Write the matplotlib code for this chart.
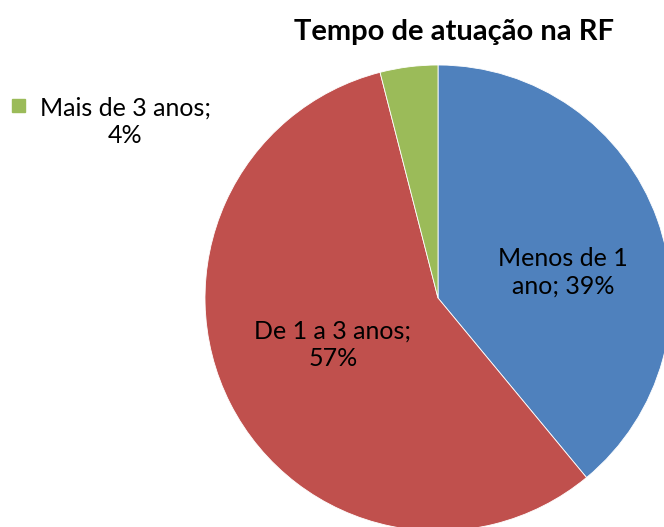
import matplotlib.pyplot as plt
from matplotlib.patches import Rectangle

plt.rcParams['font.family'] = ['Lato', 'DejaVu Sans']

# dados
categorias = ["Menos de 1 ano", "De 1 a 3 anos", "Mais de 3 anos"]
percentuais = [39, 57, 4]
cores = ["#4F81BD", "#C0504D", "#9BBB59"]
rotulos = ["Menos de 1\nano; 39%", "De 1 a 3 anos;\n57%", None]

fig = plt.figure(figsize=(6.64, 5.27), dpi=100)
ax = fig.add_axes([0, 0, 1, 1])

# pizza centrada em pixels (438, 298) com raio 233
wedges, _ = ax.pie(percentuais, colors=cores, startangle=90, counterclock=False,
                   center=(438, 527 - 298), radius=233,
                   wedgeprops=dict(linewidth=0.6, edgecolor="white"))
ax.set_xlim(0, 664)
ax.set_ylim(0, 527)
ax.set_aspect("equal")
ax.axis("off")

# rotulos dentro das fatias
pos_rotulos = [(563, 272), (333, 345)]
for txt, (x, y) in zip(rotulos[:2], pos_rotulos):
    ax.text(x, 527 - y, txt, ha="center", va="center", fontsize=18,
            color="black", linespacing=1.25)

# titulo
fig.text(454 / 664, 1 - 32 / 527, "Tempo de atuação na RF", ha="center", va="center",
         fontsize=21, fontweight="bold")

# legenda
ax.add_patch(Rectangle((12, 527 - 112), 13, 13, color=cores[2], clip_on=False))
ax.text(125, 527 - 122, "Mais de 3 anos;\n4%", ha="center", va="center",
        fontsize=18, color="black", linespacing=1.25)

fig.savefig("out.png", dpi=100)
